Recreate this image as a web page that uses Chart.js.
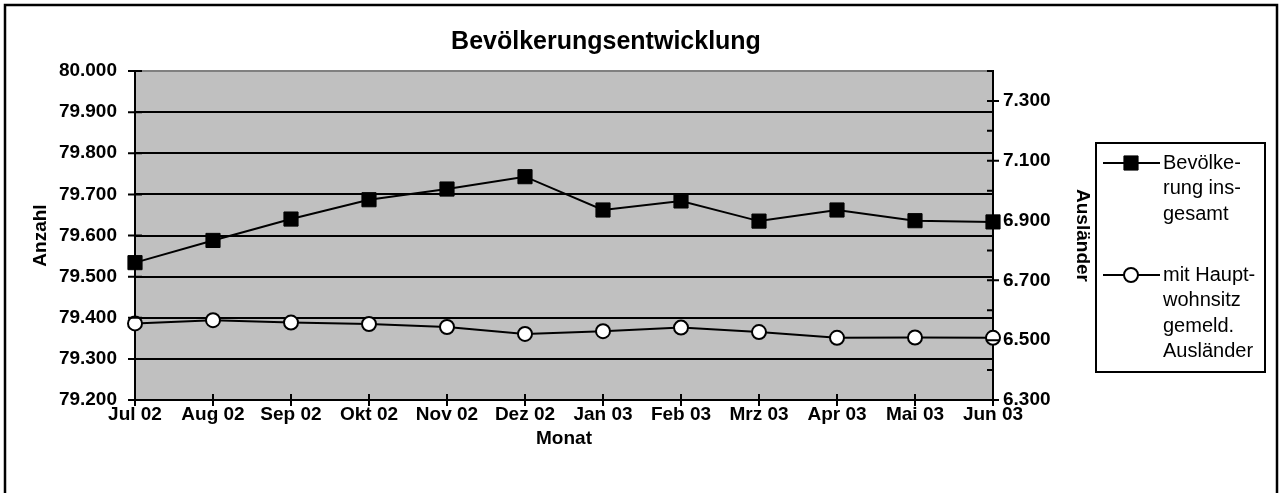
<!DOCTYPE html>
<html>
<head>
<meta charset="utf-8">
<script src="https://cdn.jsdelivr.net/npm/chart.js@4.4.1/dist/chart.umd.min.js"></script>
<style>
    html, body { margin: 0; padding: 0; background: #fff; }
    #wrap { width: 1282px; height: 493px; }
</style>
</head>
<body>
<div id="wrap"><canvas id="chart" width="1282" height="493"></canvas></div>
<script>
// Daten
const months = ['Jul 02', 'Aug 02', 'Sep 02', 'Okt 02', 'Nov 02', 'Dez 02', 'Jan 03', 'Feb 03', 'Mrz 03', 'Apr 03', 'Mai 03', 'Jun 03'];
const bevoelkerung = [79534, 79588, 79640, 79687, 79713, 79743, 79662, 79684, 79635, 79662, 79636, 79633];
const auslaender = [6556, 6567, 6559, 6554, 6544, 6521, 6530, 6542, 6527, 6508, 6509, 6508];

const leftMin = 79200, leftMax = 80000, leftStep = 100;
const rightMin = 6300, rightMax = 7400, rightStep = 100, rightLabelStep = 200;

const legendLabels = [
    ['Bevölke-', 'rung ins-', 'gesamt'],
    ['mit Haupt-', 'wohnsitz', 'gemeld.', 'Ausländer']
];
const titleText = 'Bevölkerungsentwicklung';

const FONT = "'Liberation Sans', Arial, sans-serif";

// deutsches Zahlenformat mit Tausenderpunkt
const fmt = (v) => String(Math.round(v)).replace(/\B(?=(\d{3})+(?!\d))/g, '.');

const framePlugin = {
    id: 'frame',
    beforeDraw(chart) {
        const { ctx, chartArea: a } = chart;
        ctx.save();
        ctx.fillStyle = '#fff';
        ctx.fillRect(0, 0, chart.width, chart.height);
        ctx.strokeStyle = '#000';
        ctx.lineWidth = 2.5;
        ctx.strokeRect(5, 5, 1272, 500);
        // Zeichenfläche grau
        ctx.fillStyle = '#c0c0c0';
        ctx.fillRect(a.left, a.top, a.right - a.left, a.bottom - a.top);
        ctx.restore();
    },
    afterDraw(chart) {
        const { ctx, chartArea: a, scales } = chart;
        ctx.save();

        // Titel
        ctx.fillStyle = '#000';
        ctx.font = 'bold 25px ' + FONT;
        ctx.textAlign = 'center';
        ctx.textBaseline = 'middle';
        ctx.fillText(titleText, 606, 42);

        // Teilstriche, die die Achsen kreuzen
        ctx.strokeStyle = '#000';
        ctx.lineWidth = 2;
        ctx.beginPath();
        scales.y.ticks.forEach(t => {
            const y = scales.y.getPixelForValue(t.value);
            ctx.moveTo(a.left - 7, y); ctx.lineTo(a.left + 7, y);
        });
        scales.x.ticks.forEach((t, i) => {
            const x = scales.x.getPixelForValue(i);
            ctx.moveTo(x, a.bottom - 6); ctx.lineTo(x, a.bottom + 6);
        });
        scales.y1.ticks.forEach(t => {
            const y = scales.y1.getPixelForValue(t.value);
            const labelled = (t.value - rightMin) % rightLabelStep === 0;
            ctx.moveTo(a.right - 6, y); ctx.lineTo(a.right + (labelled ? 6 : 0), y);
        });
        ctx.stroke();

        // Legende
        const bx = 1096, by = 143, bw = 169, bh = 229;
        ctx.fillStyle = '#fff';
        ctx.fillRect(bx, by, bw, bh);
        ctx.lineWidth = 2;
        ctx.strokeRect(bx, by, bw, bh);

        const entryY = [163, 275];
        const lineH = 25.5;
        chart.data.datasets.forEach((ds, i) => {
            const y = entryY[i];
            ctx.strokeStyle = ds.borderColor;
            ctx.lineWidth = ds.borderWidth;
            ctx.beginPath();
            ctx.moveTo(1103, y); ctx.lineTo(1160, y);
            ctx.stroke();
            ctx.fillStyle = ds.pointBackgroundColor;
            ctx.strokeStyle = ds.pointBorderColor;
            ctx.lineWidth = ds.pointBorderWidth;
            Chart.helpers.drawPoint(ctx, {
                pointStyle: ds.pointStyle,
                radius: ds.pointRadius,
                borderWidth: ds.pointBorderWidth,
                rotation: 0
            }, 1131, y);

            ctx.fillStyle = '#000';
            ctx.font = '20px ' + FONT;
            ctx.textAlign = 'left';
            ctx.textBaseline = 'middle';
            legendLabels[i].forEach((txt, k) => ctx.fillText(txt, 1163, y + k * lineH));
        });
        ctx.restore();
    }
};

const tickFont = { family: FONT, size: 19, weight: 'bold' };
const titleFont = { family: FONT, size: 19, weight: 'bold' };

new Chart(document.getElementById('chart'), {
    type: 'line',
    data: {
        labels: months,
        datasets: [{
            label: 'Bevölkerung insgesamt',
            data: bevoelkerung,
            yAxisID: 'y',
            borderColor: '#000',
            borderWidth: 2,
            pointStyle: 'rect',
            pointRadius: 10,
            pointBackgroundColor: '#000',
            pointBorderColor: '#000',
            pointBorderWidth: 1,
            tension: 0,
            clip: false
        }, {
            label: 'mit Hauptwohnsitz gemeld. Ausländer',
            data: auslaender,
            yAxisID: 'y1',
            borderColor: '#000',
            borderWidth: 2,
            pointStyle: 'circle',
            pointRadius: 7,
            pointBackgroundColor: '#fff',
            pointBorderColor: '#000',
            pointBorderWidth: 2,
            tension: 0,
            clip: false
        }]
    },
    options: {
        responsive: false,
        animation: false,
        devicePixelRatio: 1,
        layout: { padding: { left: 25, right: 184, top: 71, bottom: 39 } },
        plugins: {
            legend: { display: false },
            title: { display: false },
            tooltip: { enabled: false }
        },
        scales: {
            x: {
                offset: false,
                grid: { drawOnChartArea: false, drawTicks: true, tickLength: 3, tickColor: 'rgba(0,0,0,0)' },
                border: { display: true, color: '#000', width: 2 },
                ticks: { color: '#000', font: tickFont, padding: 0, maxRotation: 0, autoSkip: false },
                title: { display: true, text: 'Monat', color: '#000', font: titleFont, padding: 4 },
                afterFit: (s) => { s.height = 54; }
            },
            y: {
                position: 'left',
                min: leftMin,
                max: leftMax,
                grid: {
                    color: (c) => c.tick && c.tick.value === leftMax ? '#808080' : '#000',
                    lineWidth: 2,
                    drawTicks: true,
                    tickLength: 10,
                    tickColor: 'rgba(0,0,0,0)'
                },
                border: { display: true, color: '#000', width: 2 },
                ticks: { stepSize: leftStep, color: '#000', font: tickFont, padding: 8, callback: (v) => fmt(v) },
                title: { display: true, text: 'Anzahl', color: '#000', font: titleFont, padding: 4 },
                afterFit: (s) => { s.width = 110; }
            },
            y1: {
                position: 'right',
                min: rightMin,
                max: rightMax,
                grid: { drawOnChartArea: false, drawTicks: true, tickLength: 6, tickColor: 'rgba(0,0,0,0)' },
                border: { display: true, color: '#000', width: 2 },
                ticks: {
                    stepSize: rightStep,
                    color: '#000',
                    font: tickFont,
                    padding: 4,
                    callback: (v) => ((v - rightMin) % rightLabelStep === 0 ? fmt(v) : '')
                },
                title: { display: true, text: 'Ausländer', color: '#000', font: titleFont, padding: 4 },
                afterFit: (s) => { s.width = 105; }
            }
        }
    },
    plugins: [framePlugin]
});
</script>
</body>
</html>
